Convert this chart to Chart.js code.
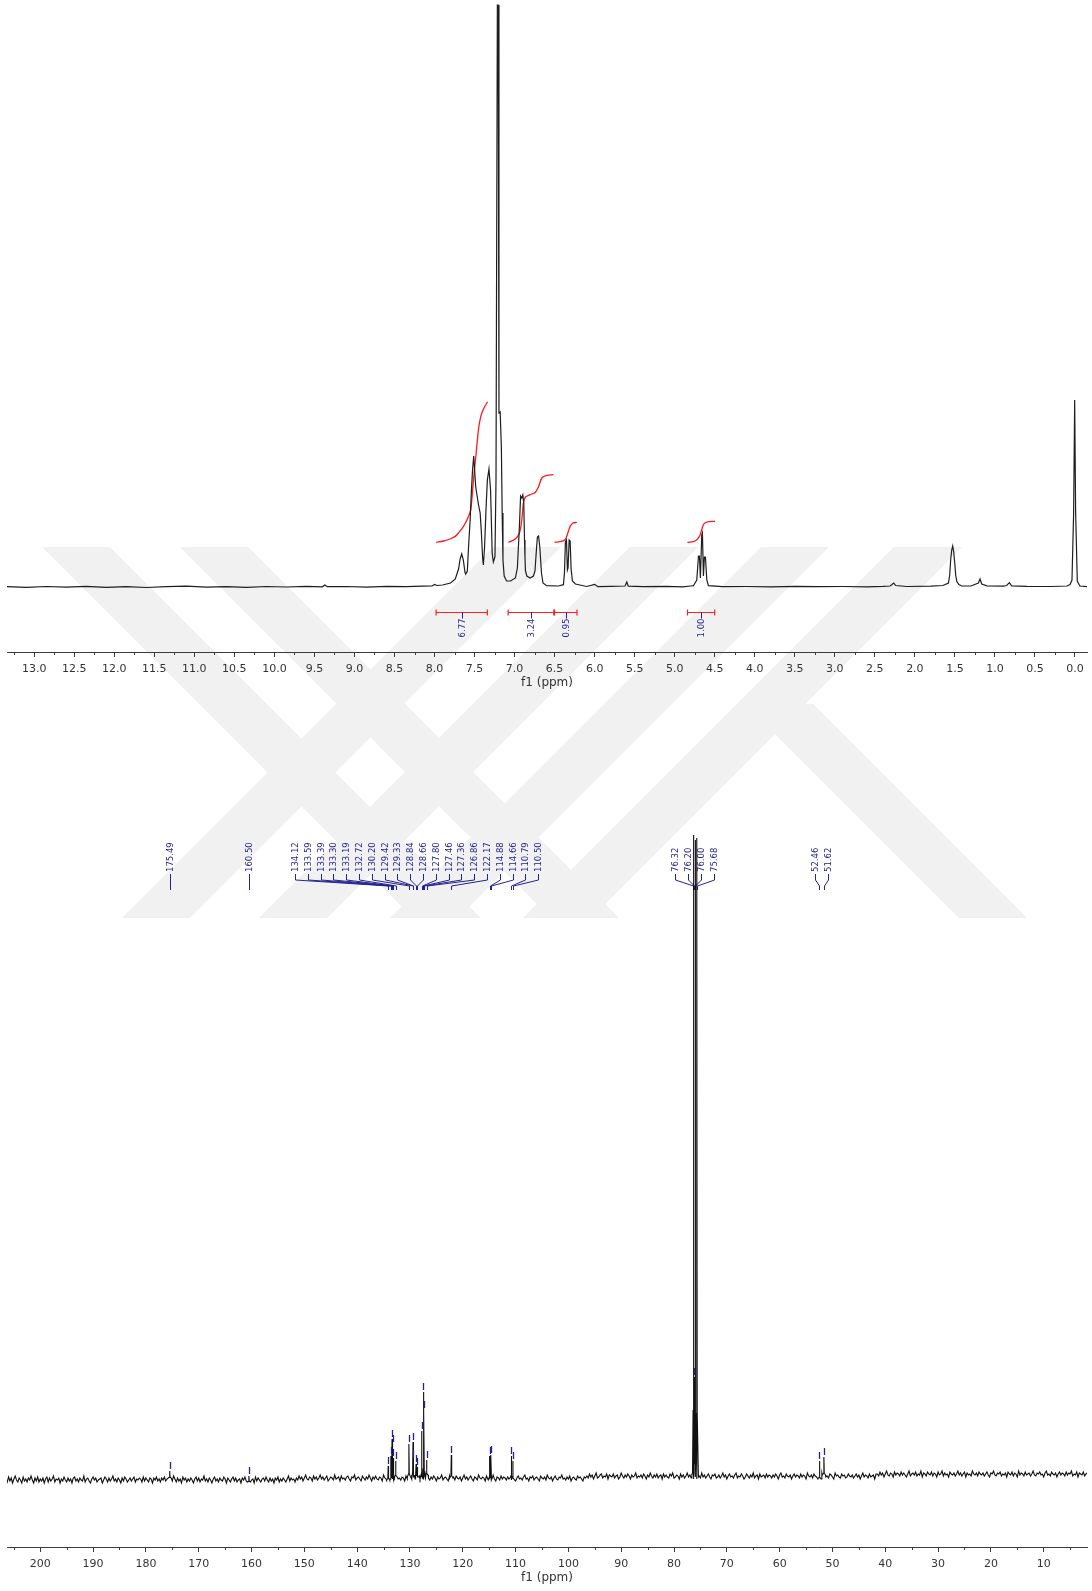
<!DOCTYPE html>
<html lang="en">
<head>
    <meta charset="UTF-8">
    <title>1H and 13C NMR spectra</title>
    <script src="https://cdn.jsdelivr.net/npm/chart.js"></script>
    <style>
        body {
            margin: 0;
            background: #fff;
        }
        .page {
            position: relative;
            width: 1092px;
            height: 1591px;
        }
        canvas {
            position: absolute;
            left: 0;
        }
        #watermark { top: 0; }
        #protonChart { top: 0; }
        #carbonChart { top: 700px; }
    </style>
</head>
<body>
<div class="page">
    <canvas id="watermark" width="1092" height="1591"></canvas>
    <canvas id="protonChart" width="1092" height="700"></canvas>
    <canvas id="carbonChart" width="1092" height="891"></canvas>
</div>

<script>
    // ---- 1H spectrum: [ppm, intensity] ----
    const protonTrace = [
        [13.34, 0.3], [13.10, -0.4], [12.85, 0.5], [12.60, -0.2], [12.35, 0.6], [12.10, -0.3],
        [11.85, 0.4], [11.60, -0.5], [11.35, 0.3], [11.10, 0.8], [10.85, -0.2], [10.60, 0.4],
        [10.35, -0.4], [10.10, 0.5], [9.85, 0], [9.60, 0.6], [9.40, 0.2], [9.37, 2], [9.34, 0.3],
        [9.10, 0.5], [8.85, -0.2], [8.60, 0.6], [8.35, 0.3], [8.15, 0.8], [8.03, 1], [8.00, 2.5],
        [7.97, 1.5], [7.90, 2], [7.80, 4], [7.74, 8], [7.70, 18], [7.68, 28], [7.66, 33], [7.64, 27],
        [7.62, 15], [7.61, 13], [7.59, 16], [7.575, 40], [7.555, 67], [7.54, 95], [7.525, 117],
        [7.51, 131], [7.50, 118], [7.485, 100], [7.47, 92], [7.45, 82], [7.43, 74], [7.415, 55],
        [7.40, 30], [7.39, 22], [7.375, 40], [7.355, 81], [7.34, 107], [7.32, 118], [7.30, 97],
        [7.29, 67], [7.28, 34], [7.265, 25], [7.245, 30], [7.232, 107], [7.215, 582], [7.205, 582],
        [7.195, 174], [7.18, 175], [7.165, 140], [7.155, 74], [7.145, 27], [7.13, 11], [7.10, 6],
        [7.05, 6], [6.99, 9], [6.965, 19], [6.94, 60], [6.925, 91], [6.91, 89], [6.897, 92],
        [6.885, 84], [6.876, 47], [6.87, 30], [6.864, 16], [6.847, 11], [6.806, 9], [6.764, 11],
        [6.745, 16], [6.73, 34], [6.715, 50], [6.70, 51], [6.685, 40], [6.664, 14], [6.645, 4],
        [6.60, 1.3], [6.45, 1], [6.39, 2.3], [6.377, 14], [6.365, 45], [6.352, 47], [6.34, 17],
        [6.332, 19], [6.318, 47], [6.306, 46], [6.294, 18], [6.277, 6], [6.24, 3], [6.10, 0.5],
        [6.00, 2.7], [5.96, 0.3], [5.80, 0.6], [5.62, 1], [5.598, 5], [5.58, 0.8], [5.40, 0.3],
        [5.10, 0.6], [4.90, 0.2], [4.80, 1], [4.766, 1.3], [4.724, 7], [4.703, 31], [4.691, 31],
        [4.679, 9], [4.662, 52], [4.654, 54], [4.641, 11], [4.629, 30], [4.616, 30], [4.599, 7],
        [4.579, 1.3], [4.40, 0.3], [4.10, 0.5], [3.80, 0.2], [3.50, 0.6], [3.20, 0.3], [2.90, 0.5],
        [2.60, 0.2], [2.40, 0.6], [2.31, 1], [2.289, 2.3], [2.264, 4], [2.239, 1.5], [2.10, 0.5],
        [1.80, 0.8], [1.65, 1.5], [1.581, 4], [1.565, 12], [1.553, 27], [1.54, 37], [1.527, 41],
        [1.515, 35], [1.502, 24], [1.49, 12], [1.477, 5.7], [1.45, 2.5], [1.415, 1], [1.30, 1],
        [1.207, 4], [1.186, 8], [1.165, 3], [1.10, 1.2], [0.90, 0.8], [0.853, 1.5], [0.820, 4.3],
        [0.791, 1.2], [0.60, 0.6], [0.30, 0.5], [0.10, 1], [0.062, 2.5], [0.0375, 7], [0.017, 74],
        [0.004, 187], [-0.008, 74], [-0.029, 5.6], [-0.062, 1], [-0.15, 0.3]
    ];

    // integral regions (ppm) and their values
    const integralFrom = [7.98, 7.08, 6.50, 4.84];
    const integralTo = [7.34, 6.51, 6.22, 4.50];
    const integralLabels = ['6.77', '3.24', '0.95', '1.00'];

    // running integral curves, [ppm, level]
    const integralCurve1 = [[7.979, 44.6], [7.888, 46], [7.805, 48], [7.742, 50.6], [7.701, 54], [7.638, 60.6],
        [7.576, 70.6], [7.547, 77.3], [7.513, 107.3], [7.480, 134], [7.451, 157.3], [7.422, 170.6],
        [7.388, 178], [7.338, 185.3]];
    const integralCurve2 = [[7.076, 44.6], [6.993, 48], [6.939, 54], [6.910, 67.3], [6.889, 84], [6.864, 90],
        [6.806, 92.3], [6.743, 94.6], [6.702, 100], [6.660, 109], [6.597, 111.6], [6.514, 112.3]];
    const integralCurve3 = [[6.502, 44.6], [6.431, 45.3], [6.369, 47.3], [6.335, 54], [6.306, 60.6],
        [6.273, 64], [6.223, 64.6]];
    const integralCurve4 = [[4.841, 44.6], [4.745, 46], [4.691, 50.6], [4.662, 57.3], [4.633, 63.3],
        [4.579, 65.3], [4.495, 65.6]];

    // ---- 13C spectrum ----
    const carbonShifts = [175.49, 160.50, 134.12, 133.59, 133.39, 133.30, 133.19, 132.72, 130.20, 129.42,
        129.33, 128.84, 128.66, 127.80, 127.46, 127.36, 126.86, 122.17, 114.88, 114.66, 110.79, 110.50,
        76.32, 76.20, 76.00, 75.68, 52.46, 51.62];
    const carbonHeights = [7, 6, 14, 23, 40, 34, 20, 16, 33, 33,
        20, 13, 10, 48, 85, 68, 15, 23, 24, 22, 22, 19,
        639, 97, 639, 639, 18, 18];

    // baseline noise, one value every 0.25 ppm starting at 206.5 ppm
    const carbonNoiseStart = 206.5;
    const carbonNoiseStep = 0.25;
    const carbonNoise = [
        -2, -5, 0, -4, -1, -6, -2, 1, -3, -5, -1, -3, -6, 0, -4, -2, -5, -1, -3, 1,
        -3, -6, -1, -4, 0, -5, -2, -4, -1, -6, -2, 0, -5, -1, -4, -2, 1, -5, -2, -3,
        -1, -6, -2, -4, 0, -3, -5, -1, -4, -2, -6, -1, 0, -4, -2, -5, -1, -3, -4, 1,
        -5, -2, -1, -4, -6, -2, 0, -3, -1, -5, -3, -2, -1, -6, -3, 0, -2, -5, -1, -4,
        -2, 1, -4, -2, -5, -1, -3, -6, -1, -4, 0, -2, -5, -3, -1, -4, -2, 0, -5, -2,
        -3, -1, -2, -5, 0, -4, -1, -3, -5, -1, -2, -6, -1, -3, 0, -4, -2, -5, -1, -3,
        0, -4, -2, -6, -1, -3, -4, 1, -2, -5, -1, -4, -2, -6, 0, -3, -1, -5, -2, -4,
        -1, -3, -6, -2, 0, -4, -1, -5, -2, -3, 1, -4, -2, -5, -1, -3, -6, -2, 0, -4,
        -2, -5, -1, -3, -4, 0, -2, -6, -1, -3, -5, -2, 0, -4, -1, -5, -3, -2, -6, -1,
        -3, 0, -4, -2, -5, -1, -3, -2, -6, 0, -4, -1, -3, -5, -2, -1, -4, 0, -3, -5,
        -1, -4, -2, -6, -1, -3, 0, -5, -2, -4, -1, -3, -5, -2, 1, -4, -1, -3, -2, -5,
        -1, -3, 1, -2, 0, -4, -1, 2, -2, -3, 0, -1, -4, 1, -2, 0, -3, -1, 2, -2,
        0, -3, -1, 1, -4, -2, 0, -1, -3, 2, -2, -1, 0, -4, 1, -2, -1, -3, 0, 1,
        -2, -4, 0, -1, 2, -3, -1, 0, -2, -4, 1, -1, -3, 0, -2, 2, -1, -4, 0, -2,
        1, -2, -3, 0, -1, -4, 2, -1, -2, 0, -3, 1, -2, -1, -4, 0, 2, -2, -1, -3,
        0, -1, -4, 1, -2, 0, -3, -1, 2, -2, -4, 0, -1, 1, -3, -2, 0, -1, -4, 2,
        -1, -3, 0, -2, 1, -1, -4, 0, -2, -1, 2, -3, -1, 0, -2, -4, 1, -1, -2, 0,
        -3, 1, -1, -2, 0, -4, -1, 2, -2, 0, -3, -1, 1, -2, -4, 0, -1, -3, 2, -1,
        -2, 0, -1, -4, 1, -2, -3, 0, -1, 2, -2, -4, 0, -1, -3, 1, -2, 0, -1, -3,
        0, -2, 2, -1, -3, 0, -4, -1, 1, -2, -1, -3, 0, 2, -2, -1, -4, 0, -1, 1,
        -3, -1, 0, -2, -4, 1, -1, -2, 0, -3, 2, -1, -2, 0, -4, -1, 1, -2, -3, 0,
        -1, 2, -2, -1, -3, 0, -2, 1, -4, -1, 0, -2, -3, 1, -1, 0, -2, -4, 0, -1,
        1, -1, 3, 0, 2, -2, 1, 4, -1, 0, 2, 3, -1, 1, 0, 3, -2, 2, 1, 0,
        3, -1, 1, 2, -2, 0, 4, 1, -1, 2, 0, 3, 1, -2, 2, 0, 1, 4, -1, 1,
        0, 2, -1, 3, 1, -2, 2, 0, 4, 1, -1, 2, 0, 3, -1, 1, 2, -2, 3, 0,
        2, 0, -1, 3, 1, 4, -1, 0, 2, 1, -2, 3, 0, 2, -1, 1, 4, 0, 2, -1,
        1, 3, -2, 0, 2, 1, -1, 4, 0, 2, -1, 1, 3, 0, -2, 2, 1, 3, -1, 0,
        2, -1, 1, 4, 0, 2, -2, 1, 3, 0, 1, -1, 2, 4, -1, 1, 0, 3, 1, -2,
        0, 3, 1, -1, 2, 0, 4, -1, 1, 2, -2, 3, 0, 1, 2, -1, 3, 0, 2, 1,
        -1, 2, 0, 3, 1, -2, 2, 4, 0, 1, -1, 3, 1, 0, 2, -2, 1, 3, 0, 2,
        1, -1, 3, 0, 2, 1, -2, 4, 1, 0, 2, -1, 3, 1, 0, 2, -2, 1, 4, 0,
        2, 0, 1, -1, 3, 2, 0, -2, 4, 1, 2, 0, -1, 3, 1, 2, -1, 0, 3, 1,
        0, 2, -1, 1, 3, 0, 2, -2, 1, 4, 0, 2, 1, -1, 3, 0, 1, 2, -2, 3,
        3, 1, 5, 2, 4, 0, 3, 6, 2, 1, 4, 3, 0, 5, 2, 4, 3, 1, 5, 2,
        4, 2, 0, 3, 6, 1, 3, 4, 2, 5, 1, 3, 2, 6, 0, 4, 3, 1, 5, 3,
        2, 5, 1, 4, 3, 0, 5, 2, 3, 6, 1, 4, 2, 3, 0, 5, 3, 2, 4, 1,
        3, 6, 2, 4, 1, 3, 5, 0, 4, 2, 3, 1, 6, 3, 2, 4, 1, 5, 3, 2,
        4, 1, 3, 5, 2, 0, 4, 3, 6, 2, 1, 4, 3, 5, 1, 3, 2, 4, 0, 5,
        3, 2, 5, 1, 4, 3, 0, 6, 2, 4, 3, 1, 5, 2, 3, 4, 1, 3, 6, 2,
        1, 4, 3, 5, 2, 3, 0, 4, 6, 2, 3, 1, 5, 3, 2, 4, 0, 3, 5, 2,
        4, 3, 1, 5, 2, 4, 3, 6, 1, 3, 2, 5, 0, 4, 3, 2, 5, 1, 3, 4
    ];

    // axis ranges and tick spacing
    const protonRange = [-0.15, 13.34];
    const carbonRange = [1.8, 206.3];
    const protonTickStep = 0.5;
    const carbonTickStep = 10;

    const AXIS_COLOR = '#3a3a3a';
    const LABEL_BLUE = '#23238f';
    const FONT = "'DejaVu Sans', Verdana, sans-serif";

    Chart.defaults.font.family = FONT;
    Chart.defaults.color = '#333';
    Chart.defaults.animation = false;

    const toXY = arr => arr.map(p => ({ x: p[0], y: p[1] }));

    // light grey diagonal bands behind both spectra
    function drawWatermark() {
        const ctx = document.getElementById('watermark').getContext('2d');
        const top = 547, bottom = 918, w = 68;
        const band = (xTop, yTop, xBottom) => {
            ctx.moveTo(xTop, yTop); ctx.lineTo(xTop + w, yTop);
            ctx.lineTo(xBottom + w, bottom); ctx.lineTo(xBottom, bottom); ctx.closePath();
        };
        ctx.fillStyle = '#f1f1f1';
        ctx.beginPath();
        // falling bands
        band(42, top, 42 + 371);
        band(180, top, 180 + 371);
        band(745, 704, 745 + 214);
        // rising bands
        [122, 259, 390, 523].forEach(x => band(x + 371, top, x));
        ctx.fill('nonzero');
    }

    // short ticks halfway between the labelled ones
    function minorTicks(step) {
        return {
            id: 'minorTicks',
            afterDraw(chart) {
                const s = chart.scales.x, ctx = chart.ctx;
                ctx.save();
                ctx.strokeStyle = AXIS_COLOR;
                ctx.lineWidth = 1;
                ctx.beginPath();
                for (let k = Math.ceil(s.min / step); k * step <= s.max; k++) {
                    if (k % 2 === 0) continue;
                    const px = Math.round(s.getPixelForValue(k * step)) + 0.5;
                    ctx.moveTo(px, s.top);
                    ctx.lineTo(px, s.top + 3);
                }
                ctx.stroke();
                ctx.restore();
            }
        };
    }

    function xAxis(range, step, digits) {
        return {
            type: 'linear',
            reverse: true,
            min: range[0],
            max: range[1],
            afterFit: s => { s.height = 38; },
            border: { color: AXIS_COLOR, width: 1 },
            grid: { drawOnChartArea: false, tickLength: 5, color: AXIS_COLOR },
            ticks: {
                stepSize: step,
                includeBounds: false,
                autoSkip: false,
                maxRotation: 0,
                padding: 6,
                color: '#333',
                font: { size: 11 },
                callback: v => Number(v).toFixed(digits)
            },
            title: { display: true, text: 'f1 (ppm)', color: '#333', font: { size: 12 }, padding: 0 }
        };
    }

    // integral bars with their values under the 1H trace
    const integralPlugin = {
        id: 'integrals',
        afterDatasetsDraw(chart) {
            const { ctx, scales: { x, y } } = chart;
            const yb = Math.round(y.getPixelForValue(-25)) + 0.5;
            ctx.save();
            ctx.lineWidth = 1.2;
            integralFrom.forEach((from, i) => {
                const x1 = x.getPixelForValue(from), x2 = x.getPixelForValue(integralTo[i]);
                ctx.strokeStyle = '#ff2020';
                ctx.beginPath();
                ctx.moveTo(x1, yb); ctx.lineTo(x2, yb);
                ctx.moveTo(x1, yb - 3); ctx.lineTo(x1, yb + 3);
                ctx.moveTo(x2, yb - 3); ctx.lineTo(x2, yb + 3);
                ctx.stroke();

                const cx = Math.round((x1 + x2) / 2) + 0.5;
                ctx.strokeStyle = LABEL_BLUE;
                ctx.lineWidth = 1;
                ctx.beginPath();
                ctx.moveTo(cx, yb); ctx.lineTo(cx, yb + 6);
                ctx.stroke();
                ctx.lineWidth = 1.2;

                ctx.save();
                ctx.translate(cx, yb + 6);
                ctx.rotate(-Math.PI / 2);
                ctx.fillStyle = LABEL_BLUE;
                ctx.font = '8.5px ' + FONT;
                ctx.textAlign = 'right';
                ctx.textBaseline = 'middle';
                ctx.fillText(integralLabels[i], 0, 0);
                ctx.restore();
            });
            ctx.restore();
        }
    };

    function noiseAt(ppm) {
        const i = Math.round((carbonNoiseStart - ppm) / carbonNoiseStep);
        return carbonNoise[Math.max(0, Math.min(carbonNoise.length - 1, i))];
    }

    // evenly spaced label positions; crowded labels are pushed apart as one block
    function spreadLabels(desired, gap) {
        let groups = desired.map((d, i) => ({ start: i, n: 1, c: d }));
        let merged = true;
        while (merged) {
            merged = false;
            for (let k = 0; k < groups.length - 1; k++) {
                const a = groups[k], b = groups[k + 1];
                if (a.c + a.n * gap <= b.c) continue;
                const n = a.n + b.n;
                const offs = [];
                for (let i = 0; i < n; i++) offs.push(desired[a.start + i] - i * gap);
                offs.sort((p, q) => p - q);
                const c = (offs[Math.floor((n - 1) / 2)] + offs[Math.ceil((n - 1) / 2)]) / 2;
                groups.splice(k, 2, { start: a.start, n, c });
                merged = true;
                break;
            }
        }
        const out = [];
        groups.forEach(g => { for (let i = 0; i < g.n; i++) out.push(g.c + i * gap); });
        return out;
    }

    // 13C peak labels joined to their peaks, plus the pick marks above each peak
    const peakLabelPlugin = {
        id: 'peakLabels',
        beforeDatasetsDraw(chart) {
            const { ctx, scales: { x } } = chart;
            const items = carbonShifts.map(p => ({ text: p.toFixed(2), px: x.getPixelForValue(p) }))
                .sort((a, b) => a.px - b.px);
            const pos = spreadLabels(items.map(it => it.px), 12.8);
            ctx.save();
            ctx.strokeStyle = LABEL_BLUE;
            ctx.fillStyle = LABEL_BLUE;
            ctx.lineWidth = 1;
            ctx.font = '8.5px ' + FONT;
            ctx.textAlign = 'left';
            ctx.textBaseline = 'middle';
            items.forEach((it, i) => {
                const lx = Math.round(pos[i]) + 0.5, px = Math.round(it.px) + 0.5;
                ctx.beginPath();
                ctx.moveTo(lx, 174); ctx.lineTo(lx, 180);
                ctx.lineTo(px, 186); ctx.lineTo(px, 190);
                ctx.stroke();
                ctx.save();
                ctx.translate(lx, 172);
                ctx.rotate(-Math.PI / 2);
                ctx.fillText(it.text, 0, 0);
                ctx.restore();
            });
            ctx.restore();
        },
        afterDatasetsDraw(chart) {
            const { ctx, scales: { x, y } } = chart;
            ctx.save();
            ctx.strokeStyle = LABEL_BLUE;
            ctx.lineWidth = 1.3;
            carbonShifts.forEach((p, i) => {
                if (carbonHeights[i] > 400) return;
                const px = Math.round(x.getPixelForValue(p)) + 0.5;
                const top = y.getPixelForValue(noiseAt(p) + carbonHeights[i]);
                ctx.beginPath();
                ctx.moveTo(px, top - 2); ctx.lineTo(px, top - 9);
                ctx.stroke();
            });
            ctx.restore();
        }
    };

    function buildCarbonTrace() {
        const pts = [];
        carbonNoise.forEach((n, i) => {
            const ppm = carbonNoiseStart - i * carbonNoiseStep;
            if (carbonShifts.some(p => Math.abs(p - ppm) < 0.3)) return;
            pts.push({ x: ppm, y: n });
        });
        carbonShifts.forEach((p, i) => {
            const base = noiseAt(p), h = carbonHeights[i];
            pts.push({ x: p + 0.3, y: base }, { x: p + 0.07, y: base + h * 0.1 }, { x: p, y: base + h },
                { x: p - 0.07, y: base + h * 0.1 }, { x: p - 0.3, y: base });
        });
        return pts.sort((a, b) => b.x - a.x);
    }

    function integralDataset(curve) {
        return { data: toXY(curve), borderColor: '#ff1a1a', borderWidth: 1.3, pointRadius: 0, tension: 0.3 };
    }

    drawWatermark();

    new Chart(document.getElementById('protonChart'), {
        type: 'line',
        data: {
            datasets: [
                { data: toXY(protonTrace), borderColor: '#1e1e1e', borderWidth: 1.2, pointRadius: 0, tension: 0 },
                integralDataset(integralCurve1),
                integralDataset(integralCurve2),
                integralDataset(integralCurve3),
                integralDataset(integralCurve4)
            ]
        },
        options: {
            responsive: false,
            devicePixelRatio: 1,
            parsing: false,
            layout: { padding: { left: 7, right: 5, top: 0, bottom: 10 } },
            plugins: { legend: { display: false }, tooltip: { enabled: false } },
            scales: {
                x: xAxis(protonRange, protonTickStep, 1),
                y: { display: false, min: -65, max: 587 }
            }
        },
        plugins: [integralPlugin, minorTicks(protonTickStep / 2)]
    });

    new Chart(document.getElementById('carbonChart'), {
        type: 'line',
        data: {
            datasets: [
                { data: buildCarbonTrace(), borderColor: '#111', borderWidth: 1.1, pointRadius: 0, tension: 0 }
            ]
        },
        options: {
            responsive: false,
            devicePixelRatio: 1,
            parsing: false,
            layout: { padding: { left: 7, right: 5, top: 0, bottom: 6 } },
            plugins: { legend: { display: false }, tooltip: { enabled: false } },
            scales: {
                x: xAxis(carbonRange, carbonTickStep, 0),
                y: { display: false, min: -70, max: 777 }
            }
        },
        plugins: [peakLabelPlugin, minorTicks(carbonTickStep / 2)]
    });
</script>
</body>
</html>
